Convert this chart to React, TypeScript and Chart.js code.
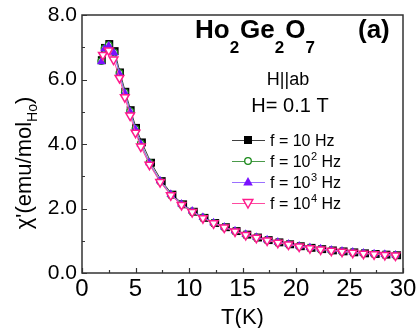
import React, { useEffect, useRef } from "react";
import { Chart, registerables } from "chart.js";

Chart.register(...registerables);

const FONT = "'Liberation Sans', Arial, Helvetica, sans-serif";

// ---- data ----
const xMajorTicks = [0, 5, 10, 15, 20, 25, 30];
const xMinorTicks = [2.5, 7.5, 12.5, 17.5, 22.5, 27.5];
const yMajorTicks = [0, 2, 4, 6, 8];
const yMinorTicks = [1, 3, 5, 7];

const temps10Hz = [1.85, 2.15, 2.55, 3.05, 3.55, 4.05, 4.55, 5.05, 5.6, 6.45, 7.45, 8.45, 9.45, 10.45, 11.45, 12.45, 13.45, 14.45, 15.45, 16.45, 17.45, 18.45, 19.45, 20.45, 21.45, 22.45, 23.45, 24.45, 25.45, 26.45, 27.45, 28.45, 29.45];
const chi10Hz = [6.6, 6.98, 7.1, 6.88, 6.22, 5.62, 5.05, 4.5, 4.05, 3.42, 2.85, 2.43, 2.13, 1.9, 1.71, 1.55, 1.42, 1.3, 1.19, 1.1, 1.02, 0.95, 0.89, 0.83, 0.78, 0.74, 0.7, 0.67, 0.64, 0.61, 0.59, 0.57, 0.55];

const temps = [1.8, 2.1, 2.5, 3.0, 3.5, 4.0, 4.5, 5.0, 5.5, 6.3, 7.3, 8.3, 9.3, 10.3, 11.3, 12.3, 13.3, 14.3, 15.3, 16.3, 17.3, 18.3, 19.3, 20.3, 21.3, 22.3, 23.3, 24.3, 25.3, 26.3, 27.3, 28.3, 29.3];
const chi100Hz = [6.57, 6.96, 7.07, 6.84, 6.2, 5.6, 5.02, 4.47, 4.02, 3.42, 2.85, 2.43, 2.13, 1.91, 1.72, 1.55, 1.42, 1.3, 1.19, 1.1, 1.02, 0.95, 0.89, 0.83, 0.78, 0.74, 0.7, 0.67, 0.64, 0.61, 0.59, 0.57, 0.55];
const chi1kHz = [6.55, 6.95, 7.05, 6.82, 6.18, 5.58, 5.0, 4.46, 4.0, 3.42, 2.86, 2.44, 2.14, 1.92, 1.73, 1.56, 1.43, 1.31, 1.2, 1.11, 1.03, 0.96, 0.9, 0.84, 0.79, 0.75, 0.71, 0.68, 0.65, 0.62, 0.6, 0.58, 0.56];

const temps10kHz = [1.95, 2.5, 2.95, 3.5, 4.0, 4.5, 5.0, 5.5, 6.3, 7.3, 8.3, 9.3, 10.3, 11.3, 12.3, 13.3, 14.3, 15.3, 16.3, 17.3, 18.3, 19.3, 20.3, 21.3, 22.3, 23.3, 24.3, 25.3, 26.3, 27.3, 28.3, 29.3];
const chi10kHz = [6.76, 6.9, 6.62, 6.05, 5.45, 4.88, 4.35, 3.92, 3.36, 2.82, 2.41, 2.11, 1.89, 1.7, 1.54, 1.41, 1.29, 1.18, 1.09, 1.01, 0.94, 0.88, 0.82, 0.77, 0.73, 0.69, 0.66, 0.63, 0.6, 0.58, 0.56, 0.54];

const legendBases = ["f = 10", "f = 10", "f = 10", "f = 10"];
const legendExps = ["", "2", "3", "4"];

const COLORS = {
  black: "#000000",
  blackLine: "#404040",
  green: "#1a8a1a",
  greenLine: "#4a9a4a",
  purple: "#7a10ff",
  purpleLine: "#9a70ff",
  pink: "#ff1a8c",
  pinkLine: "#ff4aa0",
};

function pts(xs: number[], ys: number[]) {
  return xs.map((x, i) => ({ x, y: ys[i] }));
}

function drawMarker(ctx: CanvasRenderingContext2D, kind: string, x: number, y: number) {
  ctx.save();
  if (kind === "square") {
    ctx.fillStyle = COLORS.black;
    ctx.fillRect(x - 4, y - 4, 8, 8);
  } else if (kind === "circle") {
    ctx.beginPath();
    ctx.arc(x, y, 3.3, 0, Math.PI * 2);
    ctx.fillStyle = "#fff";
    ctx.fill();
    ctx.lineWidth = 1.3;
    ctx.strokeStyle = COLORS.green;
    ctx.stroke();
  } else if (kind === "tri") {
    ctx.beginPath();
    ctx.moveTo(x, y - 5);
    ctx.lineTo(x + 4.8, y + 3.5);
    ctx.lineTo(x - 4.8, y + 3.5);
    ctx.closePath();
    ctx.fillStyle = COLORS.purple;
    ctx.fill();
  } else {
    ctx.beginPath();
    ctx.moveTo(x, y + 5);
    ctx.lineTo(x + 4.8, y - 3.5);
    ctx.lineTo(x - 4.8, y - 3.5);
    ctx.closePath();
    ctx.fillStyle = "#fff";
    ctx.fill();
    ctx.lineWidth = 1.5;
    ctx.strokeStyle = COLORS.pink;
    ctx.stroke();
  }
  ctx.restore();
}

const decorPlugin = {
  id: "decor",
  afterDatasetsDraw(chart: any) {
    const ctx: CanvasRenderingContext2D = chart.ctx;
    const area = chart.chartArea;
    const xs = chart.scales.x;
    const ys = chart.scales.y;
    ctx.save();
    // frame
    ctx.strokeStyle = "#333333";
    ctx.lineWidth = 1.5;
    ctx.strokeRect(area.left, area.top, area.right - area.left, area.bottom - area.top);
    // inward ticks
    ctx.lineWidth = 1.2;
    ctx.beginPath();
    xMajorTicks.forEach((v) => {
      const px = Math.round(xs.getPixelForValue(v)) + 0.5;
      ctx.moveTo(px, area.bottom);
      ctx.lineTo(px, area.bottom - 5);
    });
    xMinorTicks.forEach((v) => {
      const px = Math.round(xs.getPixelForValue(v)) + 0.5;
      ctx.moveTo(px, area.bottom);
      ctx.lineTo(px, area.bottom - 3);
    });
    yMajorTicks.forEach((v) => {
      const py = Math.round(ys.getPixelForValue(v)) + 0.5;
      ctx.moveTo(area.left, py);
      ctx.lineTo(area.left + 5, py);
    });
    yMinorTicks.forEach((v) => {
      const py = Math.round(ys.getPixelForValue(v)) + 0.5;
      ctx.moveTo(area.left, py);
      ctx.lineTo(area.left + 3, py);
    });
    ctx.stroke();

    ctx.fillStyle = "#000";
    ctx.textBaseline = "alphabetic";

    // x title
    ctx.font = `22px ${FONT}`;
    ctx.textAlign = "center";
    ctx.fillText("T(K)", (area.left + area.right) / 2, 324);

    // y title with subscript
    ctx.save();
    ctx.translate(31, 163);
    ctx.rotate(-Math.PI / 2);
    const mainFont = `22px ${FONT}`;
    const subFont = `14px ${FONT}`;
    ctx.font = mainFont;
    const p1 = "\u03C7'(emu/mol";
    const w1 = ctx.measureText(p1).width;
    const w3 = ctx.measureText(")").width;
    ctx.font = subFont;
    const w2 = ctx.measureText("Ho").width;
    const total = w1 + w2 + w3;
    let cx = -total / 2;
    ctx.textAlign = "left";
    ctx.font = mainFont;
    ctx.fillText(p1, cx, 0);
    cx += w1;
    ctx.font = subFont;
    ctx.fillText("Ho", cx, 6);
    cx += w2;
    ctx.font = mainFont;
    ctx.fillText(")", cx, 0);
    ctx.restore();

    // compound title
    const big = `bold 26px ${FONT}`;
    const small = `bold 17px ${FONT}`;
    const parts: [string, boolean][] = [
      ["Ho", false], ["2", true], ["Ge", false], ["2", true], ["O", false], ["7", true],
    ];
    let tx = 195;
    ctx.textAlign = "left";
    parts.forEach(([t, sub]) => {
      ctx.font = sub ? small : big;
      ctx.fillText(t, tx, sub ? 53 : 38);
      tx += ctx.measureText(t).width + (sub ? 1 : 0);
    });
    ctx.font = big;
    ctx.fillText("(a)", 358, 38);

    ctx.textAlign = "center";
    ctx.font = `18px ${FONT}`;
    ctx.fillText("H||ab", 288, 85);
    ctx.font = `20px ${FONT}`;
    ctx.fillText("H= 0.1 T", 290, 112);

    // legend
    const kinds = ["square", "circle", "tri", "invtri"];
    const lineCols = [COLORS.blackLine, COLORS.greenLine, COLORS.purpleLine, COLORS.pinkLine];
    const rows = [140, 161, 182, 203];
    kinds.forEach((k, i) => {
      const y = rows[i];
      ctx.strokeStyle = lineCols[i];
      ctx.lineWidth = 1;
      ctx.beginPath();
      ctx.moveTo(232, y + 0.5);
      ctx.lineTo(265, y + 0.5);
      ctx.stroke();
      drawMarker(ctx, k, 248, y);
      ctx.fillStyle = "#000";
      ctx.textAlign = "left";
      ctx.font = `16px ${FONT}`;
      let lx = 270;
      ctx.fillText(legendBases[i], lx, y + 6);
      lx += ctx.measureText(legendBases[i]).width;
      if (legendExps[i]) {
        ctx.font = `11px ${FONT}`;
        ctx.fillText(legendExps[i], lx + 0.5, y - 1);
        lx += ctx.measureText(legendExps[i]).width + 0.5;
        ctx.font = `16px ${FONT}`;
      }
      ctx.fillText(" Hz", lx, y + 6);
    });
    ctx.restore();
  },
};

export default function App() {
  const ref = useRef<HTMLCanvasElement | null>(null);
  useEffect(() => {
    if (!ref.current) return;
    const chart = new Chart(ref.current, {
      type: "line",
      data: {
        datasets: [
          {
            label: "f = 10 Hz",
            data: pts(temps10Hz, chi10Hz),
            borderColor: COLORS.blackLine,
            backgroundColor: COLORS.black,
            pointBackgroundColor: COLORS.black,
            pointBorderColor: COLORS.black,
            pointStyle: "rect",
            pointRadius: 5.6,
            pointBorderWidth: 0,
            borderWidth: 1,
            order: 4,
          },
          {
            label: "f = 10^2 Hz",
            data: pts(temps, chi100Hz),
            borderColor: COLORS.greenLine,
            pointBackgroundColor: "#ffffff",
            pointBorderColor: COLORS.green,
            pointStyle: "circle",
            pointRadius: 3.3,
            pointBorderWidth: 1.3,
            borderWidth: 1,
            order: 3,
          },
          {
            label: "f = 10^3 Hz",
            data: pts(temps, chi1kHz),
            borderColor: COLORS.purpleLine,
            pointBackgroundColor: COLORS.purple,
            pointBorderColor: COLORS.purple,
            pointStyle: "triangle",
            pointRadius: 5,
            pointBorderWidth: 0,
            borderWidth: 1,
            order: 2,
          },
          {
            label: "f = 10^4 Hz",
            data: pts(temps10kHz, chi10kHz),
            borderColor: COLORS.pinkLine,
            pointBackgroundColor: "#ffffff",
            pointBorderColor: COLORS.pink,
            pointStyle: "triangle",
            pointRotation: 180,
            pointRadius: 5,
            pointBorderWidth: 1.5,
            borderWidth: 1,
            order: 1,
          },
        ],
      },
      options: {
        responsive: false,
        animation: false,
        devicePixelRatio: 1,
        layout: { padding: { left: 0, top: 15, right: 14, bottom: 0 } },
        plugins: { legend: { display: false }, tooltip: { enabled: false } },
        elements: { line: { tension: 0 } },
        scales: {
          x: {
            type: "linear",
            min: 0,
            max: 30,
            grid: { display: false, drawTicks: false },
            border: { display: false },
            ticks: {
              stepSize: 5,
              padding: 2,
              color: "#000",
              font: { family: FONT, size: 24 },
              maxRotation: 0,
            },
            afterFit(scale: any) {
              scale.height = 55;
              scale.paddingLeft = 0;
              scale.paddingRight = 0;
            },
          },
          y: {
            type: "linear",
            min: 0,
            max: 8,
            grid: { display: false, drawTicks: false },
            border: { display: false },
            ticks: {
              stepSize: 2,
              padding: 5,
              color: "#000",
              font: { family: FONT, size: 21 },
              callback: (v: any) => Number(v).toFixed(1),
            },
            afterFit(scale: any) {
              scale.width = 82;
              scale.paddingTop = 0;
              scale.paddingBottom = 0;
            },
          },
        },
      },
      plugins: [decorPlugin],
    } as any);
    return () => chart.destroy();
  }, []);
  return (
    <div style={{ position: "fixed", left: 0, top: 0, width: 417, height: 328, background: "#fff" }}>
      <canvas ref={ref} width={417} height={328} style={{ display: "block", width: 417, height: 328 }} />
    </div>
  );
}
